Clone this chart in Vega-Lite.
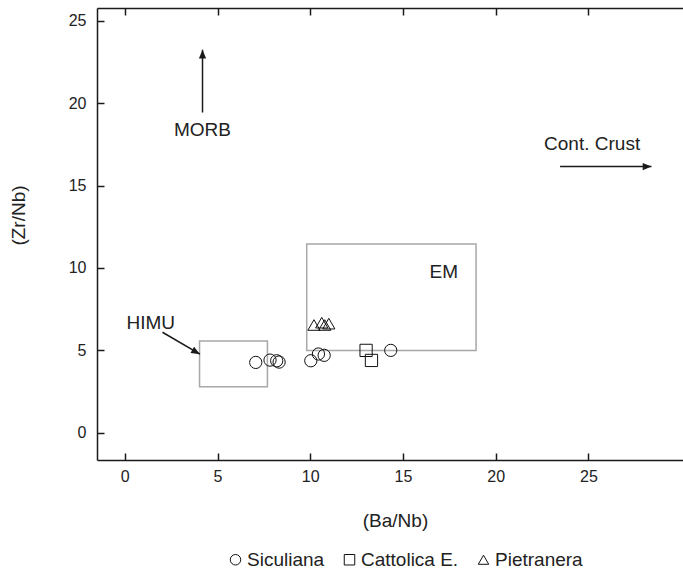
{
  "$schema": "https://vega.github.io/schema/vega-lite/v6.json",
  "width": 586,
  "height": 452,
  "autosize": {"type": "none"},
  "padding": {"left": 97, "top": 8, "right": 0, "bottom": 111},
  "background": "white",
  "config": {
    "view": {"stroke": null},
    "font": "Liberation Sans",
    "axis": {
      "grid": false,
      "domainColor": "#1a1a1a",
      "domainWidth": 1.5,
      "tickColor": "#1a1a1a",
      "tickWidth": 1.5,
      "labelColor": "#222",
      "labelFontSize": 16,
      "titleFontSize": 19,
      "titleFontWeight": "normal",
      "titleColor": "#222"
    }
  },
  "data": {
    "values": [
      {"kind": "box", "name": "HIMU", "x": 4.03, "x2": 7.69, "y": 2.79, "y2": 5.57},
      {"kind": "box", "name": "EM", "x": 9.81, "x2": 18.94, "y": 5.0, "y2": 11.46},
      {"kind": "pt", "group": "Siculiana", "x": 7.06, "y": 4.27},
      {"kind": "pt", "group": "Siculiana", "x": 7.83, "y": 4.41},
      {"kind": "pt", "group": "Siculiana", "x": 8.19, "y": 4.37},
      {"kind": "pt", "group": "Siculiana", "x": 8.32, "y": 4.29},
      {"kind": "pt", "group": "Siculiana", "x": 10.03, "y": 4.37},
      {"kind": "pt", "group": "Siculiana", "x": 10.44, "y": 4.78},
      {"kind": "pt", "group": "Siculiana", "x": 10.75, "y": 4.7},
      {"kind": "pt", "group": "Siculiana", "x": 14.34, "y": 5.0},
      {"kind": "pt", "group": "Cattolica E.", "x": 13.01, "y": 5.0},
      {"kind": "pt", "group": "Cattolica E.", "x": 13.3, "y": 4.39},
      {"kind": "pt", "group": "Pietranera", "x": 10.2, "y": 6.54},
      {"kind": "pt", "group": "Pietranera", "x": 10.62, "y": 6.68},
      {"kind": "pt", "group": "Pietranera", "x": 10.78, "y": 6.54},
      {"kind": "pt", "group": "Pietranera", "x": 11.0, "y": 6.62},
      {"kind": "label", "text": "MORB", "x": 4.19, "y": 18.34},
      {"kind": "label", "text": "Cont. Crust", "x": 25.2, "y": 17.53},
      {"kind": "label", "text": "HIMU", "x": 1.4, "y": 6.66},
      {"kind": "label", "text": "EM", "x": 17.2, "y": 9.78},
      {"kind": "arrow", "name": "MORB", "x": 4.19, "y": 19.43, "x2": 4.19, "y2": 23.24},
      {"kind": "arrow", "name": "Cont. Crust", "x": 23.47, "y": 16.15, "x2": 28.4, "y2": 16.15},
      {"kind": "arrow", "name": "HIMU", "x": 2.03, "y": 6.1, "x2": 4.05, "y2": 4.77}
    ]
  },
  "resolve": {"axis": {"x": "independent"}},
  "layer": [
    {
      "transform": [{"filter": "datum.kind === 'box'"}],
      "mark": {"type": "rect", "fillOpacity": 0, "stroke": "#a8a8a8", "strokeWidth": 1.5},
      "encoding": {
        "x": {"field": "x", "type": "quantitative", "scale": {"domain": [-1.5, 30.1], "nice": false, "zero": false},
          "axis": {"orient": "bottom", "values": [0, 5, 10, 15, 20, 25], "tickSize": -7, "labelPadding": 15, "labelDx": -2, "title": "(Ba/Nb)", "titleX": 298, "titleY": 60, "titleBaseline": "middle"}},
        "x2": {"field": "x2"},
        "y": {"field": "y", "type": "quantitative", "scale": {"domain": [-1.65, 25.77], "nice": false, "zero": false},
          "axis": {"values": [0, 5, 10, 15, 20, 25], "tickSize": -7, "labelPadding": 18, "title": "(Zr/Nb)", "titleX": -79, "titleY": 207, "titleBaseline": "middle", "titleAngle": -90}},
        "y2": {"field": "y2"}
      }
    },
    {
      "transform": [{"filter": "datum.kind === 'pt'"}],
      "mark": {"type": "point", "filled": false, "color": "#111", "strokeWidth": 1, "size": 150, "opacity": 1},
      "encoding": {
        "x": {"field": "x", "type": "quantitative", "scale": {"domain": [-1.5, 30.1], "nice": false, "zero": false},
          "axis": {"orient": "top", "values": [0, 5, 10, 15, 20, 25], "tickSize": -7, "labels": false, "title": null}},
        "y": {"field": "y", "type": "quantitative"},
        "shape": {"field": "group", "type": "nominal",
          "scale": {"domain": ["Siculiana", "Cattolica E.", "Pietranera"], "range": ["circle", "square", "triangle-up"]},
          "legend": {"orient": "none", "direction": "horizontal", "legendX": 129, "legendY": 542, "title": null,
            "labelFontSize": 19, "labelColor": "#222", "symbolSize": 110, "symbolStrokeColor": "#111", "symbolStrokeWidth": 1,
            "symbolFillColor": "transparent", "columnPadding": 15, "labelOffset": 2, "padding": 0}}
      }
    },
    {
      "transform": [{"filter": "datum.kind === 'label'"}],
      "mark": {"type": "text", "fontSize": 19, "color": "#222", "align": "center", "baseline": "middle"},
      "encoding": {
        "x": {"field": "x", "type": "quantitative", "scale": {"domain": [-1.5, 30.1], "nice": false, "zero": false}, "axis": null},
        "y": {"field": "y", "type": "quantitative"},
        "text": {"field": "text"}
      }
    },
    {
      "transform": [{"filter": "datum.kind === 'arrow'"}],
      "mark": {"type": "rule", "color": "#1a1a1a", "strokeWidth": 1.5},
      "encoding": {
        "x": {"field": "x", "type": "quantitative", "scale": {"domain": [-1.5, 30.1], "nice": false, "zero": false}, "axis": null},
        "y": {"field": "y", "type": "quantitative"},
        "x2": {"field": "x2"},
        "y2": {"field": "y2"}
      }
    },
    {
      "transform": [{"filter": "datum.kind === 'arrow' && datum.name === 'MORB'"}],
      "mark": {"type": "point", "shape": "M0,0L0.9,2.2L-0.9,2.2Z", "filled": true, "color": "#1a1a1a", "size": 64, "opacity": 1, "angle": 0},
      "encoding": {
        "x": {"field": "x2", "type": "quantitative", "scale": {"domain": [-1.5, 30.1], "nice": false, "zero": false}, "axis": null},
        "y": {"field": "y2", "type": "quantitative"}
      }
    },
    {
      "transform": [{"filter": "datum.kind === 'arrow' && datum.name === 'Cont. Crust'"}],
      "mark": {"type": "point", "shape": "M0,0L0.9,2.2L-0.9,2.2Z", "filled": true, "color": "#1a1a1a", "size": 64, "opacity": 1, "angle": 90},
      "encoding": {
        "x": {"field": "x2", "type": "quantitative", "scale": {"domain": [-1.5, 30.1], "nice": false, "zero": false}, "axis": null},
        "y": {"field": "y2", "type": "quantitative"}
      }
    },
    {
      "transform": [{"filter": "datum.kind === 'arrow' && datum.name === 'HIMU'"}],
      "mark": {"type": "point", "shape": "M0,0L0.9,2.2L-0.9,2.2Z", "filled": true, "color": "#1a1a1a", "size": 64, "opacity": 1, "angle": 120},
      "encoding": {
        "x": {"field": "x2", "type": "quantitative", "scale": {"domain": [-1.5, 30.1], "nice": false, "zero": false}, "axis": null},
        "y": {"field": "y2", "type": "quantitative"}
      }
    }
  ]
}
